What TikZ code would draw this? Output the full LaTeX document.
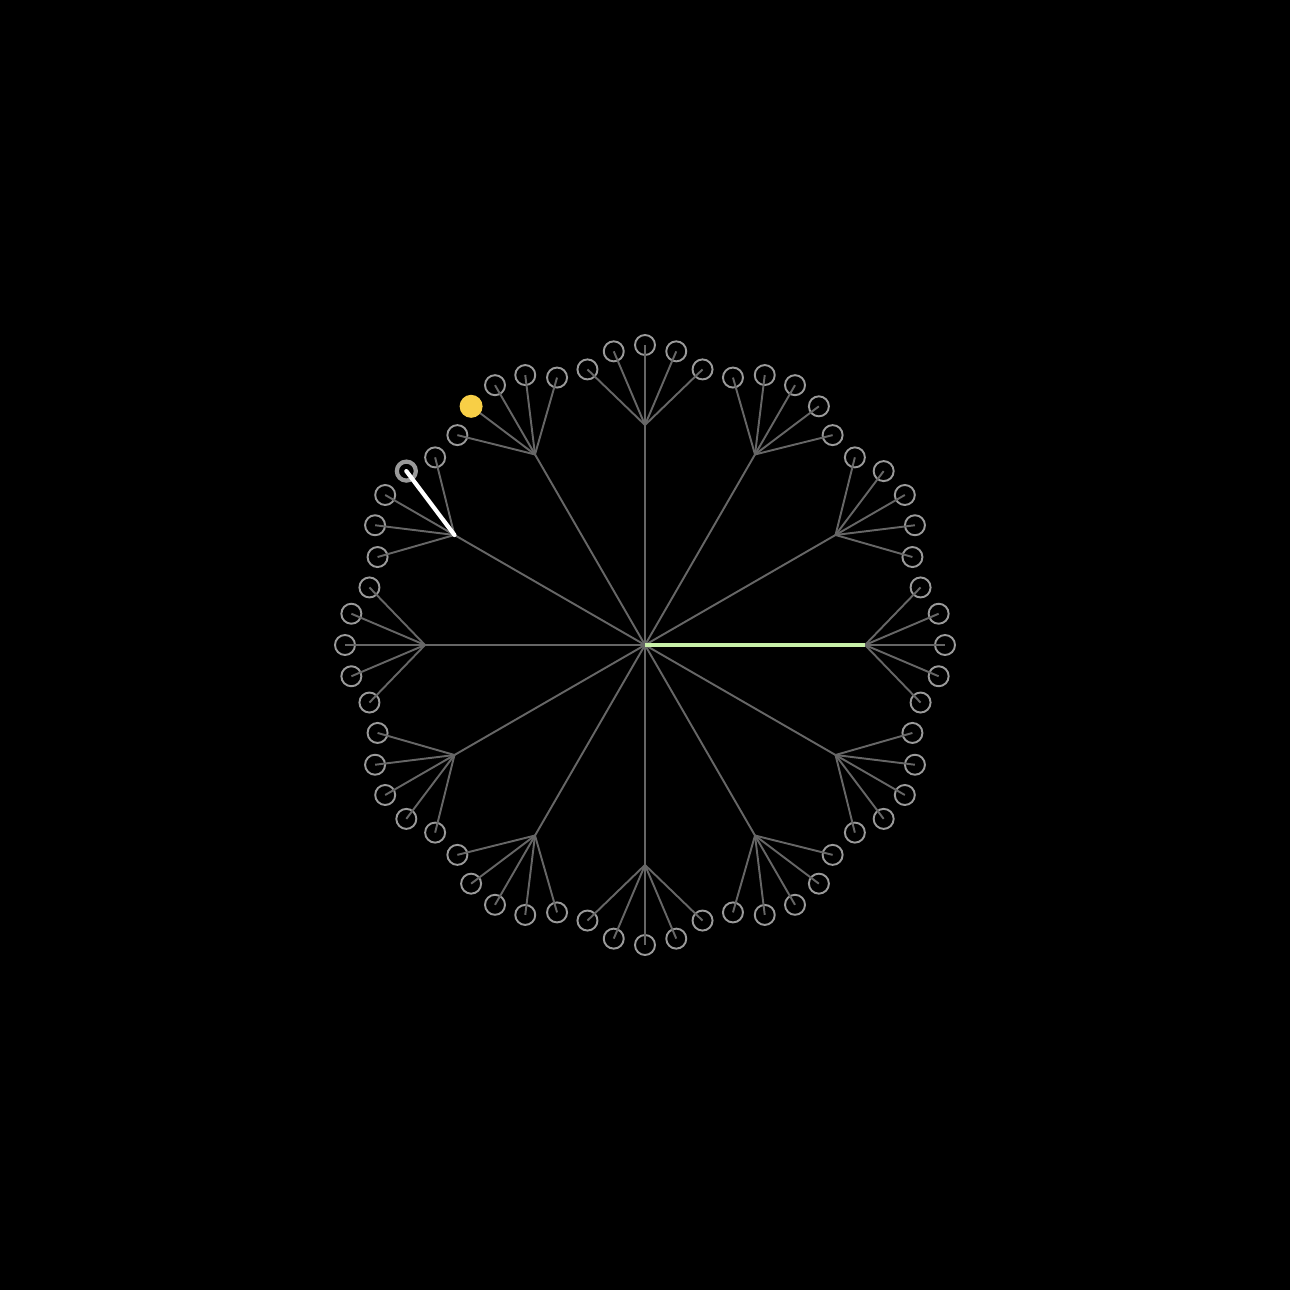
\documentclass[tikz,border=0pt]{standalone}
\usetikzlibrary{positioning}

\definecolor{edgegray}{HTML}{666666}
\definecolor{leafgray}{HTML}{9A9A9A}
\definecolor{pathgreen}{HTML}{C8F0A8}
\definecolor{seedyellow}{HTML}{F8CF46}

\begin{document}
\begin{tikzpicture}[
    edge/.style = {
        draw=edgegray,
        line width=0.55pt
    },
    leaf/.style = {
        circle,
        draw=leafgray,
        line width=0.55pt,
        minimum size=0.2cm,
        inner sep=0pt
    },
    seed/.style = {
        circle,
        fill=seedyellow,
        minimum size=0.23cm,
        inner sep=0pt
    },
    picked/.style = {
        circle,
        draw=leafgray,
        line width=1.2pt,
        minimum size=0.19cm,
        inner sep=0pt
    },
    active/.style = {
        line width=1.2pt
    }
]

% background and size
\fill[black] (0,0) rectangle (12.9,12.9);

\coordinate (root) at (6.45,6.45);

% hubs and leaves
\foreach \i in {0,...,11} {
    \path (root) ++ (30*\i:2.2) coordinate (hub\i);
    \foreach \j in {1,...,5} {
        \path (hub\i) ++ ({30*\i+(\j-3)*23}:0.8) node[leaf] (leaf\i-\j) {};
    }
}

% connectors
\foreach \i in {0,...,11} {
    \draw[edge] (root) -- (hub\i);
    \foreach \j in {1,...,5} {
        \draw[edge] (hub\i) -- (leaf\i-\j.center);
    }
}

% highlighted path
\draw[active, draw=pathgreen] (root) -- (hub0);
\node[picked] at (leaf5-2) {};
\draw[active, draw=white, line cap=round] (hub5) -- (leaf5-2.center);
\node[seed] at (leaf4-4) {};

\end{tikzpicture}
\end{document}
